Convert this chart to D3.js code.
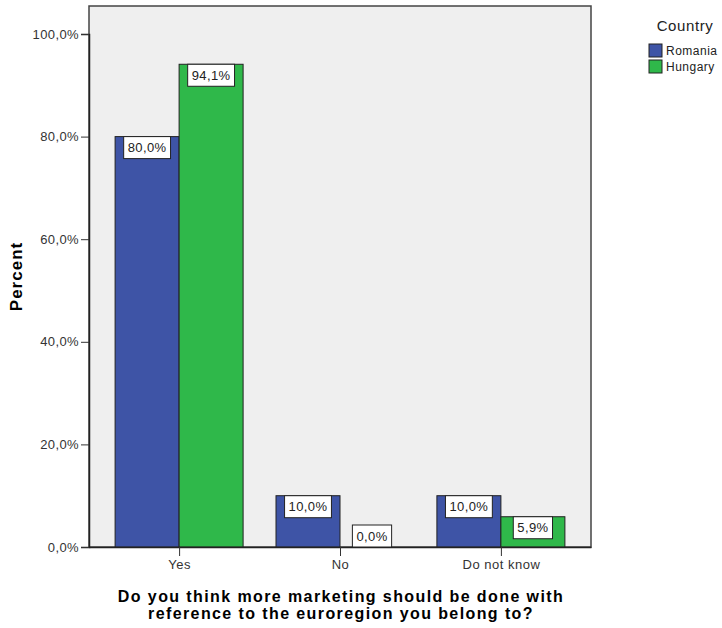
<!DOCTYPE html>
<html>
<head>
<meta charset="utf-8">
<script src="https://cdn.jsdelivr.net/npm/d3@7"></script>
<style>
  body { margin: 0; background: #fff; }
  text { font-family: "Liberation Sans", Arial, sans-serif; }
</style>
</head>
<body>
<div id="chart"></div>
<script>
// data
const categories = ["Yes", "No", "Do not know"];
const countries = ["Romania", "Hungary"];
const romania = [80.0, 10.0, 10.0];
const hungary = [94.1, 0.0, 5.9];
const yTicks = [0, 20, 40, 60, 80, 100];
const colors = ["#3e54a6", "#2fb84a"];

const W = 722, H = 628;
const margin = { top: 6, right: 131, bottom: 81, left: 89 };
const width = W - margin.left - margin.right;
const height = H - margin.top - margin.bottom;

const fmt = v => v.toFixed(1).replace(".", ",") + "%";

const svg = d3.select("#chart").append("svg")
  .attr("width", W)
  .attr("height", H);

const g = svg.append("g")
  .attr("transform", `translate(${margin.left},${margin.top})`);

// plot background
g.append("rect")
  .attr("width", width)
  .attr("height", height)
  .attr("fill", "#efefef")
  .attr("stroke", "#444")
  .attr("stroke-width", 1.5);

const x = d3.scalePoint()
  .domain(categories)
  .range([0, width])
  .padding(0.56);

const y = d3.scaleLinear()
  .domain([0, 100])
  .range([height, 28]);

const barW = 64;
const xSub = d3.scaleBand()
  .domain(countries)
  .range([-barW, barW])
  .padding(0);

// bars
const rows = [];
categories.forEach((c, i) => {
  rows.push({ cat: c, country: "Romania", value: romania[i] });
  rows.push({ cat: c, country: "Hungary", value: hungary[i] });
});

g.selectAll(".bar")
  .data(rows.filter(d => d.value > 0))
  .join("rect")
  .attr("class", "bar")
  .attr("x", d => x(d.cat) + xSub(d.country))
  .attr("y", d => y(d.value))
  .attr("width", xSub.bandwidth())
  .attr("height", d => height - y(d.value))
  .attr("fill", d => colors[countries.indexOf(d.country)])
  .attr("stroke", "#222")
  .attr("stroke-width", 1);

// axes
const yAxis = g.append("g")
  .call(d3.axisLeft(y).tickValues(yTicks).tickFormat(fmt).tickSize(8).tickPadding(2));
yAxis.select(".domain").attr("stroke", "#222").attr("stroke-width", 1.5);
yAxis.selectAll("text").attr("font-size", 13).attr("letter-spacing", 0.4).attr("fill", "#333");
yAxis.selectAll(".tick line").attr("stroke", "#333");

const xAxis = g.append("g")
  .attr("transform", `translate(0,${height})`)
  .call(d3.axisBottom(x).tickSize(9).tickPadding(4).tickSizeOuter(0));
xAxis.select(".domain").attr("stroke", "#222").attr("stroke-width", 1.5);
xAxis.selectAll("text").attr("font-size", 13).attr("letter-spacing", 0.5).attr("fill", "#333");
xAxis.selectAll(".tick line").attr("stroke", "#333");

// value labels
const boxH = 22;
const labels = g.selectAll(".lbl")
  .data(rows)
  .join("g")
  .attr("class", "lbl");

labels.append("text")
  .attr("x", d => x(d.cat) + xSub(d.country) + xSub.bandwidth() / 2)
  .attr("y", d => Math.min(y(d.value), height - boxH) + 15.5)
  .attr("text-anchor", "middle")
  .attr("font-size", 13)
  .attr("letter-spacing", 0.4)
  .attr("fill", "#222")
  .text(d => fmt(d.value));

labels.each(function(d) {
  const t = d3.select(this).select("text");
  const tw = t.node().getComputedTextLength();
  const cx = x(d.cat) + xSub(d.country) + xSub.bandwidth() / 2;
  const top = Math.min(y(d.value), height - boxH);
  d3.select(this).insert("rect", "text")
    .attr("x", cx - tw / 2 - 4)
    .attr("y", top)
    .attr("width", tw + 8)
    .attr("height", boxH)
    .attr("fill", "#fff")
    .attr("stroke", "#222")
    .attr("stroke-width", 1);
});

// axis titles
svg.append("text")
  .attr("transform", `translate(22,${margin.top + height / 2}) rotate(-90)`)
  .attr("text-anchor", "middle")
  .attr("font-size", 17)
  .attr("letter-spacing", 1)
  .attr("font-weight", "bold")
  .text("Percent");

const xTitle = svg.append("text")
  .attr("text-anchor", "middle")
  .attr("font-size", 16)
  .attr("letter-spacing", 1.4)
  .attr("font-weight", "bold");
xTitle.append("tspan")
  .attr("x", margin.left + width / 2 + 1)
  .attr("y", 602)
  .text("Do you think more marketing should be done with");
xTitle.append("tspan")
  .attr("x", margin.left + width / 2 + 1)
  .attr("y", 619)
  .text("reference to the euroregion you belong to?");

// legend
const legend = svg.append("g").attr("transform", "translate(649,0)");
legend.append("text")
  .attr("x", 36)
  .attr("y", 31)
  .attr("text-anchor", "middle")
  .attr("font-size", 15)
  .attr("letter-spacing", 0.6)
  .attr("fill", "#222")
  .text("Country");

const li = legend.selectAll(".li")
  .data(countries)
  .join("g")
  .attr("transform", (d, i) => `translate(0,${44 + i * 16})`);
li.append("rect")
  .attr("width", 13)
  .attr("height", 13)
  .attr("fill", (d, i) => colors[i])
  .attr("stroke", "#222");
li.append("text")
  .attr("x", 17)
  .attr("y", 11)
  .attr("font-size", 12)
  .attr("letter-spacing", 0.5)
  .attr("fill", "#222")
  .text(d => d);
</script>
</body>
</html>
